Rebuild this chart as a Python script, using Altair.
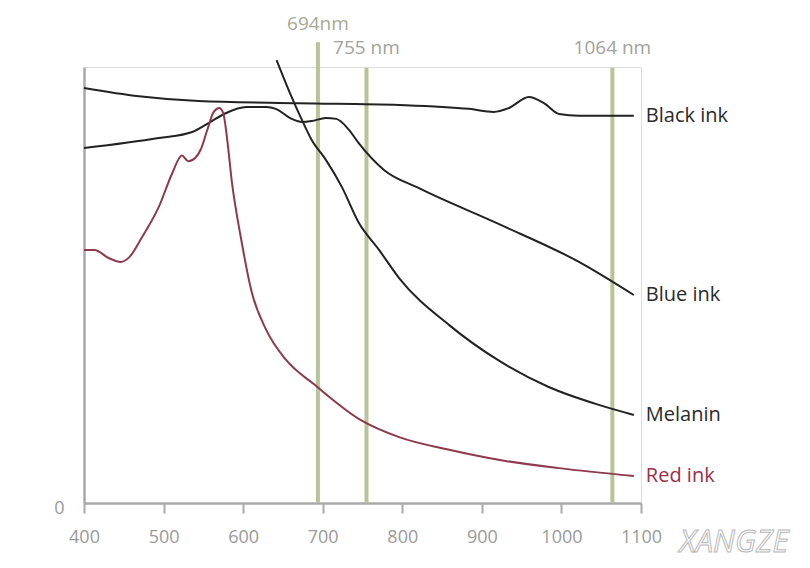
import altair as alt
import pandas as pd

# ---- data (wavelength nm, relative absorption 0..1) ----
black_x = [400, 469, 544, 670, 796, 884, 915, 934, 959, 978, 997, 1022, 1091]
black_y = [0.952, 0.933, 0.922, 0.917, 0.913, 0.904, 0.897, 0.906, 0.931, 0.917, 0.892, 0.888, 0.888]

blue_x = [400, 494, 536, 557, 578, 604, 629, 641, 661, 674, 686, 704, 717, 733, 745, 777, 821, 921, 1022, 1091]
blue_y = [0.814, 0.837, 0.851, 0.872, 0.894, 0.908, 0.908, 0.904, 0.881, 0.874, 0.876, 0.883, 0.881,
          0.856, 0.826, 0.764, 0.722, 0.640, 0.553, 0.477]

melanin_x = [642, 661, 674, 686, 704, 724, 745, 771, 796, 859, 921, 984, 1047, 1091]
melanin_y = [1.016, 0.931, 0.878, 0.833, 0.787, 0.725, 0.644, 0.580, 0.516, 0.408, 0.327, 0.266, 0.225, 0.202]

red_x = [400, 413, 431, 446, 457, 473, 494, 511, 523, 531, 540, 547, 555, 563, 570, 575, 580, 586,
         597, 611, 629, 654, 690, 748, 796, 859, 921, 997, 1091]
red_y = [0.580, 0.580, 0.562, 0.553, 0.564, 0.610, 0.679, 0.757, 0.797, 0.784, 0.792, 0.812, 0.856,
         0.897, 0.906, 0.894, 0.833, 0.734, 0.610, 0.482, 0.397, 0.328, 0.271, 0.190, 0.151, 0.122,
         0.099, 0.080, 0.062]

series_names = ["Black ink", "Blue ink", "Melanin", "Red ink"]
series_colors = ["#222222", "#222222", "#222222", "#8e3a4c"]
label_colors = ["#2a2a2a", "#2a2a2a", "#2a2a2a", "#9c2f4a"]

laser_nm = [694, 755, 1064]
laser_top = [1.057, 0.998, 0.998]
laser_labels = ["694nm", "755 nm", "1064 nm"]
laser_label_y = [1.099, 1.043, 1.043]
laser_label_colors = ["#a6aa92", "#a2a29c", "#a2a29c"]

x_ticks = [400, 500, 600, 700, 800, 900, 1000, 1100]

# ---- tables ----
rows = []
for name, xs, ys in zip(series_names, [black_x, blue_x, melanin_x, red_x],
                        [black_y, blue_y, melanin_y, red_y]):
    for i, (a, b) in enumerate(zip(xs, ys)):
        rows.append({"series": name, "nm": a, "v": b, "order": i})
curves = pd.DataFrame(rows)

ends = curves.sort_values("order").groupby("series").tail(1).copy()
ends["lc"] = ends["series"].map(dict(zip(series_names, label_colors)))

lasers = pd.DataFrame({"nm": laser_nm, "top": laser_top, "label": laser_labels,
                       "ly": laser_label_y, "lc": laser_label_colors, "zero": [0, 0, 0]})

FONT = "Open Sans"

xscale = alt.Scale(domain=[400, 1100], nice=False, zero=False)
yscale = alt.Scale(domain=[0, 1], nice=False)

rules = alt.Chart(lasers).mark_rule(color="#b7c497", strokeWidth=4).encode(
    x=alt.X("nm:Q", scale=xscale,
            axis=alt.Axis(values=x_ticks, format="d", title=None, grid=False,
                          domainColor="#a8a8a8", domainWidth=2.5, tickColor="#a8a8a8",
                          tickWidth=2, tickSize=10, labelFlush=False,
                          labelColor="#9a9a9a", labelFont=FONT, labelFontSize=18,
                          labelPadding=15)),
    y=alt.Y("zero:Q", scale=yscale,
            axis=alt.Axis(values=[0], format="d", title=None, grid=False, ticks=False,
                          domainColor="#a8a8a8", domainWidth=2.5, labelColor="#9a9a9a",
                          labelFont=FONT, labelFontSize=18, labelPadding=20,
                          labelOffset=5)),
    y2="top:Q",
)

laser_text = alt.Chart(lasers).mark_text(font=FONT, fontSize=19,
                                         baseline="middle", align="center").encode(
    x=alt.X("nm:Q", scale=xscale), y=alt.Y("ly:Q", scale=yscale), text="label:N",
    color=alt.Color("lc:N", scale=None))

lines = alt.Chart(curves).mark_line(strokeWidth=2, interpolate="monotone").encode(
    x=alt.X("nm:Q", scale=xscale),
    y=alt.Y("v:Q", scale=yscale),
    color=alt.Color("series:N", scale=alt.Scale(domain=series_names, range=series_colors),
                    legend=None),
    order="order:Q",
)

labels = alt.Chart(ends).mark_text(font=FONT, fontSize=20, align="left", baseline="middle",
                                   dx=12).encode(
    x=alt.X("nm:Q", scale=xscale), y=alt.Y("v:Q", scale=yscale), text="series:N",
    color=alt.Color("lc:N", scale=None),
)

watermark = alt.Chart(pd.DataFrame({"t": ["XANGZE"]})).mark_text(
    font=FONT, fontSize=31, fill="white", stroke="#b8b8b8", strokeWidth=1,
    align="center", baseline="middle", fontStyle="italic").encode(
    x=alt.value(650), y=alt.value(476), text="t:N")

chart = alt.layer(rules, lines, laser_text, labels, watermark).properties(
    width=557, height=436,
    autosize=alt.AutoSizeParams(type="none"),
    padding={"left": 76, "top": 59, "right": 161, "bottom": 57},
).configure_view(stroke=None).configure(background="white")

chart.save("out.html", embed_options={"renderer": "svg", "actions": False})
